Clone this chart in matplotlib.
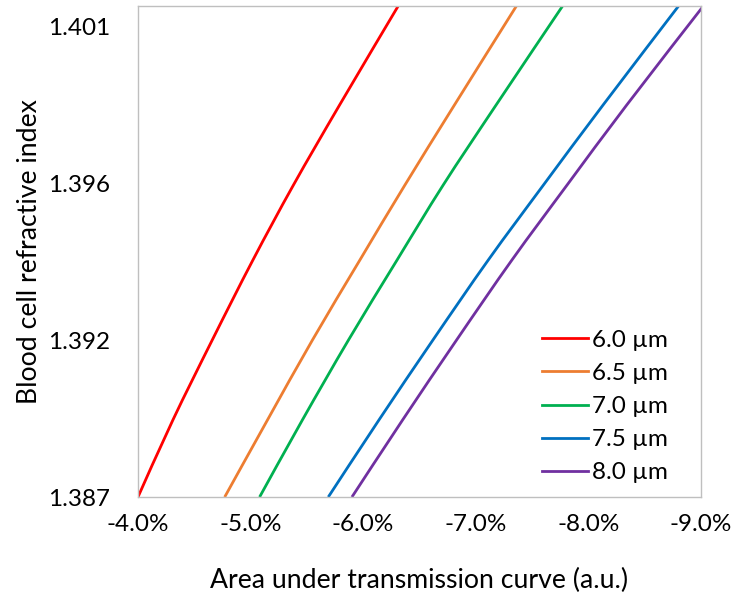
import numpy as np
import matplotlib
matplotlib.use('Agg')
import matplotlib.pyplot as plt
from matplotlib.path import Path
from matplotlib.patches import PathPatch
from matplotlib.lines import Line2D
from matplotlib.ticker import FuncFormatter

plt.rcParams['font.family'] = ['Lato', 'DejaVu Sans']

# refractive index levels (y) and area under curve in % (x) for each cell size
refractive_index = [1.38700, 1.38929, 1.39167, 1.39404, 1.39627, 1.39865, 1.40159]
area_6_0 = [-4.00, -4.31, -4.66, -5.02, -5.38, -5.79, -6.31]
area_6_5 = [-4.77, -5.15, -5.55, -5.97, -6.37, -6.81, -7.36]
area_7_0 = [-5.08, -5.46, -5.87, -6.30, -6.71, -7.18, -7.77]
area_7_5 = [-5.69, -6.14, -6.62, -7.11, -7.60, -8.13, -8.80]
area_8_0 = [-5.90, -6.35, -6.83, -7.32, -7.81, -8.34, -9.02]

labels = ['6.0 \u00b5m', '6.5 \u00b5m', '7.0 \u00b5m', '7.5 \u00b5m', '8.0 \u00b5m']
colors = ['#FF0000', '#ED7D31', '#00B050', '#0070C0', '#7030A0']
y_ticks = [1.387, 1.387 + 0.014 / 3, 1.387 + 0.028 / 3, 1.401]
x_ticks = [-4.0, -5.0, -6.0, -7.0, -8.0, -9.0]


def smooth_path(xs, ys):
    # excel-like smoothed line: catmull-rom segments drawn as cubic beziers
    pts = np.column_stack([xs, ys])
    n = len(pts)
    verts = [pts[0]]
    codes = [Path.MOVETO]
    for i in range(n - 1):
        p0 = pts[max(i - 1, 0)]
        p1 = pts[i]
        p2 = pts[i + 1]
        p3 = pts[min(i + 2, n - 1)]
        verts += [p1 + (p2 - p0) / 6, p2 - (p3 - p1) / 6, p2]
        codes += [Path.CURVE4] * 3
    return Path(verts, codes)


fig = plt.figure(figsize=(7.34, 6.01), dpi=100)
ax = fig.add_axes([0.188, 0.173, 0.767, 0.817])

handles = []
for series, label, color in zip([area_6_0, area_6_5, area_7_0, area_7_5, area_8_0], labels, colors):
    patch = PathPatch(smooth_path(series, refractive_index), facecolor='none',
                      edgecolor=color, lw=2.0, capstyle='butt')
    ax.add_patch(patch)
    handles.append(Line2D([], [], color=color, lw=2.0, label=label))

ax.set_xlim(-4.0, -9.0)
ax.set_ylim(1.387, 1.387 + 491 / 157 * 0.014 / 3)
ax.set_xticks(x_ticks)
ax.set_yticks(y_ticks)
ax.xaxis.set_major_formatter(FuncFormatter(lambda v, p: '%.1f%%' % v))
ax.yaxis.set_major_formatter(FuncFormatter(lambda v, p: '%.3f' % v))
ax.tick_params(axis='both', length=0, labelsize=17.5)
ax.tick_params(axis='y', pad=20)
ax.tick_params(axis='x', pad=12)

for sp in ax.spines.values():
    sp.set_color('#BFBFBF')
    sp.set_linewidth(1.0)

ax.set_xlabel('Area under transmission curve (a.u.)', fontsize=19.2, labelpad=24)
ax.set_ylabel('Blood cell refractive index', fontsize=19.2, labelpad=4)

ax.legend(handles=handles, loc='lower right', bbox_to_anchor=(0.958, 0.008), frameon=False,
          fontsize=17.5, handlelength=1.9, handletextpad=0.15, labelspacing=0.5, borderaxespad=0)

fig.savefig('out.png', dpi=100)
